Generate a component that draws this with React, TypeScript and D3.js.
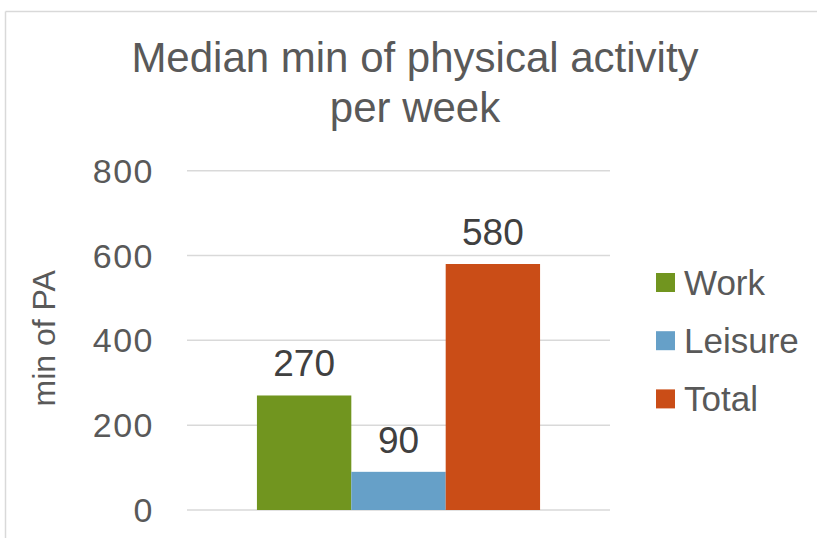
import React from "react";
import * as d3 from "d3";

const categories = ["Work", "Leisure", "Total"];
const values = [270, 90, 580];
const colors = ["#71951F", "#66A0C8", "#CA4D17"];
const yTicks = [0, 200, 400, 600, 800];
const titleLines = ["Median min of physical activity", "per week"];
const yLabel = "min of PA";

const W = 817;
const H = 538;
const plotLeft = 187;
const plotRight = 610;
const plotTop = 170.7;
const plotBottom = 510;
const FONT = "'Liberation Sans', Arial, sans-serif";

export default function App() {
  const y = d3.scaleLinear().domain([0, 800]).range([plotBottom, plotTop]);
  const outer = d3.scaleBand().domain(["g"]).range([plotLeft, plotRight]).paddingInner(0).paddingOuter(0.247);
  const inner = d3
    .scaleBand()
    .domain(categories)
    .range([outer("g") as number, (outer("g") as number) + outer.bandwidth()]);

  return (
    <svg
      width={W}
      height={H}
      style={{ position: "absolute", left: 0, top: 0, background: "#fff" }}
    >
      <line x1={5.5} x2={W} y1={11.5} y2={11.5} stroke="#D9D9D9" strokeWidth={1.5} />
      <line x1={5.5} x2={5.5} y1={11.5} y2={H} stroke="#D9D9D9" strokeWidth={1.5} />
      {titleLines.map((t, i) => (
        <text
          key={t}
          x={415}
          y={71.7 + i * 50}
          textAnchor="middle"
          fontFamily={FONT}
          fontSize={42}
          fill="#595959"
        >
          {t}
        </text>
      ))}
      {yTicks.map((t) => (
        <g key={t}>
          <line x1={plotLeft} x2={plotRight} y1={y(t)} y2={y(t)} stroke="#D9D9D9" strokeWidth={1.5} />
          <text
            x={154}
            y={y(t) + 12}
            textAnchor="end"
            fontFamily={FONT}
            fontSize={34}
            letterSpacing={1.5}
            fill="#595959"
          >
            {t}
          </text>
        </g>
      ))}
      <text
        transform={`translate(55, ${(plotTop + plotBottom) / 2 - 2}) rotate(-90)`}
        textAnchor="middle"
        fontFamily={FONT}
        fontSize={32}
        fill="#595959"
      >
        {yLabel}
      </text>
      {categories.map((c, i) => (
        <g key={c}>
          <rect
            x={inner(c)}
            y={y(values[i])}
            width={inner.bandwidth()}
            height={plotBottom - y(values[i])}
            fill={colors[i]}
          />
          <text
            x={(inner(c) as number) + inner.bandwidth() / 2}
            y={y(values[i]) - 19}
            textAnchor="middle"
            fontFamily={FONT}
            fontSize={37}
            fill="#404040"
          >
            {values[i]}
          </text>
        </g>
      ))}
      {categories.map((c, i) => (
        <g key={"lg" + c} transform={`translate(656, ${273 + i * 58.2})`}>
          <rect x={0} y={0} width={19} height={19} fill={colors[i]} />
          <text x={28} y={22} fontFamily={FONT} fontSize={35} fill="#595959">
            {c}
          </text>
        </g>
      ))}
    </svg>
  );
}
